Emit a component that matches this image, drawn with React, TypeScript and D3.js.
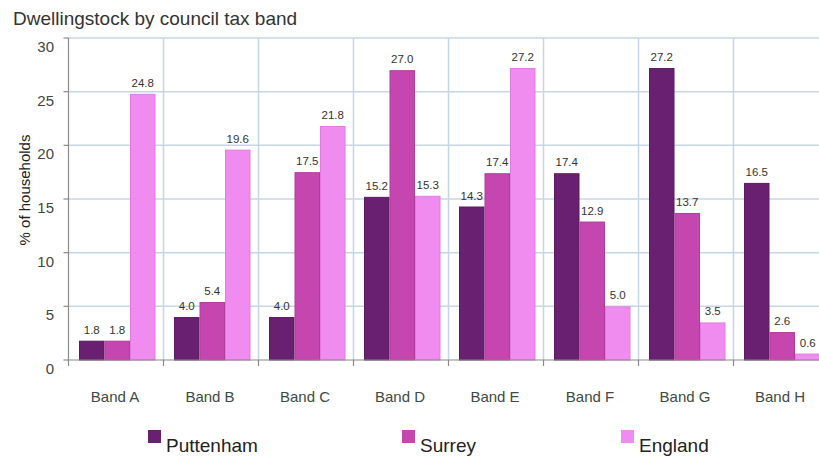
import React from "react";
import * as d3 from "d3";

const categories = ["Band A", "Band B", "Band C", "Band D", "Band E", "Band F", "Band G", "Band H"];
const seriesNames = ["Puttenham", "Surrey", "England"];
const puttenham = [1.8, 4.0, 4.0, 15.2, 14.3, 17.4, 27.2, 16.5];
const surrey = [1.8, 5.4, 17.5, 27.0, 17.4, 12.9, 13.7, 2.6];
const england = [24.8, 19.6, 21.8, 15.3, 27.2, 5.0, 3.5, 0.6];
const yTicks = [0, 5, 10, 15, 20, 25, 30];
const colors = ["#6a2070", "#c646b0", "#f08cf0"];
const strokes = ["#5a1a5e", "#b03c9c", "#e07ce0"];

const W = 819;
const H = 457;
const left = 68.5;
const bandW = 95;
const top = 38;
const bottom = 360;
const font = "Liberation Sans, Arial, sans-serif";

export default function App() {
  const values = [puttenham, surrey, england];
  const x = d3.scaleBand<string>().domain(categories).range([left, left + bandW * categories.length]).padding(0);
  const inner = d3.scaleBand<string>().domain(seriesNames).range([10.5, 10.5 + 76.5]).padding(0);
  const y = d3.scaleLinear().domain([0, 30]).range([bottom, top]);
  const boundaries = categories.map((c) => x(c)!).concat([x(categories[categories.length - 1])! + bandW]);

  const legendX = [148, 402, 621];

  return (
    <svg width={W} height={H} style={{ position: "absolute", left: 0, top: 0, background: "#fff" }} fontFamily={font}>
      <rect x={0} y={0} width={W} height={H} fill="#fff" />
      <text x={13} y={25} fontSize={19} fill="#333">Dwellingstock by council tax band</text>
      {yTicks.filter((t) => t > 0).map((t) => (
        <line key={"h" + t} x1={left} x2={W} y1={y(t)} y2={y(t)} stroke="#c6d6e6" strokeWidth={1.5} />
      ))}
      {boundaries.slice(1).map((b, i) => (
        <line key={"v" + i} x1={b} x2={b} y1={top} y2={bottom} stroke="#c6d6e6" strokeWidth={1.5} />
      ))}
      {values.map((vals, si) =>
        vals.map((v, ci) => {
          const bx = x(categories[ci])! + inner(seriesNames[si])!;
          return (
            <rect key={si + "-" + ci} x={bx + 0.5} y={y(v) + 0.5} width={inner.bandwidth() - 1} height={Math.max(0, y(0) - y(v) - 0.5)} fill={colors[si]} stroke={strokes[si]} strokeWidth={1} />
          );
        })
      )}
      {values.map((vals, si) =>
        vals.map((v, ci) => {
          const bx = x(categories[ci])! + inner(seriesNames[si])! + inner.bandwidth() / 2;
          return (
            <text key={"l" + si + "-" + ci} x={bx} y={y(v) - 7} fontSize={11.5} textAnchor="middle" fill="#333">
              {v.toFixed(1)}
            </text>
          );
        })
      )}
      <line x1={left} x2={left} y1={top} y2={bottom} stroke="#8a8a8a" strokeWidth={1.2} />
      <line x1={left} x2={W} y1={bottom} y2={bottom} stroke="#8a8a8a" strokeWidth={1.2} />
      {yTicks.map((t) => (
        <g key={"t" + t}>
          <line x1={left - 5} x2={left} y1={y(t)} y2={y(t)} stroke="#8a8a8a" strokeWidth={1.2} />
          <text x={54} y={y(t) + 14} fontSize={15} textAnchor="end" fill="#444">{t}</text>
        </g>
      ))}
      {boundaries.map((b, i) => (
        <line key={"xt" + i} x1={b} x2={b} y1={bottom} y2={bottom + 6} stroke="#8a8a8a" strokeWidth={1.2} />
      ))}
      {categories.map((c) => (
        <text key={c} x={x(c)! + bandW / 2 - 1} y={402} fontSize={15} textAnchor="middle" fill="#3e4a44">{c}</text>
      ))}
      <text transform={`translate(30,190) rotate(-90)`} fontSize={15} textAnchor="middle" fill="#222">% of households</text>
      {seriesNames.map((s, i) => (
        <g key={s}>
          <rect x={legendX[i]} y={430} width={13} height={13} fill={colors[i]} />
          <text x={legendX[i] + 18} y={452} fontSize={19} fill="#222">{s}</text>
        </g>
      ))}
    </svg>
  );
}
